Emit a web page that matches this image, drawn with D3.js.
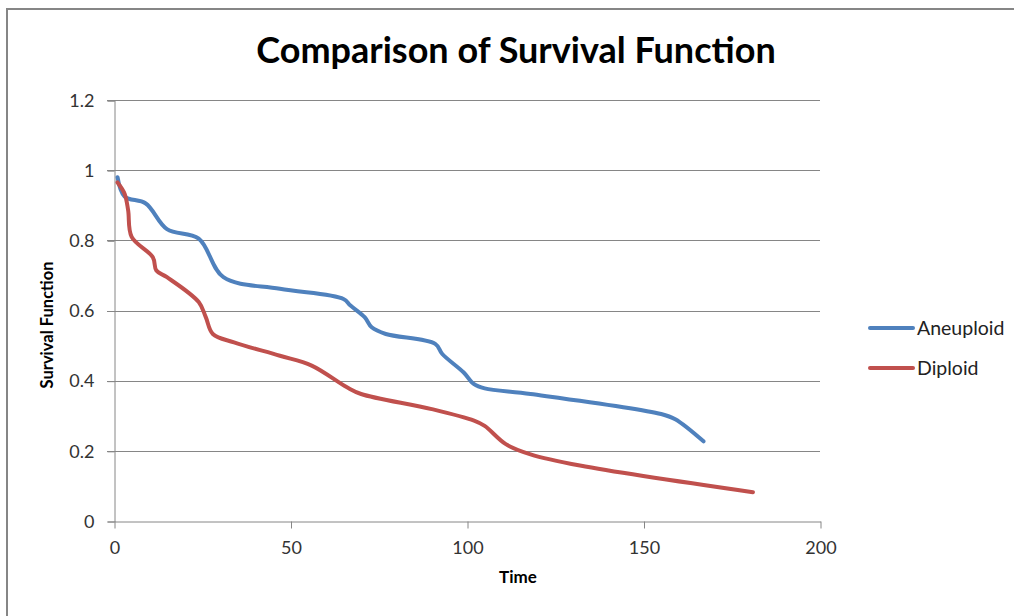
<!DOCTYPE html>
<html>
<head>
<meta charset="utf-8">
<script src="https://cdn.jsdelivr.net/npm/d3@7"></script>
<style>
  body { margin: 0; background: #fff; }
  svg { display: block; font-family: Lato, "Noto Sans", sans-serif; }
</style>
</head>
<body>
<svg id="chart"></svg>
<script>
// survival estimates: [time, survival]
const aneuploid = [
  [1, 0.98], [3, 0.925], [9, 0.905], [15, 0.832], [24, 0.805], [31, 0.695],
  [47, 0.662], [65, 0.633], [67, 0.614], [71, 0.581], [73, 0.552], [77, 0.533],
  [91, 0.505], [93, 0.476], [99, 0.424], [102, 0.39], [105, 0.378], [118, 0.362],
  [155, 0.305], [159, 0.29], [167, 0.227]
];
const diploid = [
  [1, 0.965], [3, 0.933], [4, 0.886], [5, 0.81], [11, 0.752], [12, 0.714],
  [15, 0.695], [24, 0.624], [26, 0.581], [28, 0.533], [34, 0.509], [47, 0.471],
  [56, 0.443], [66, 0.381], [70, 0.362], [90, 0.319], [102, 0.286], [105, 0.271],
  [111, 0.219], [118, 0.19], [132, 0.158], [181, 0.082]
];
const seriesNames = ["Aneuploid", "Diploid"];
const seriesColors = ["#4f81bd", "#c0504d"];
const xTicks = [0, 50, 100, 150, 200];
const yTicks = [0, 0.2, 0.4, 0.6, 0.8, 1, 1.2];

const width = 1014, height = 616;
const plotLeft = 114, plotRight = 820, plotTop = 100, plotBottom = 521;

const svg = d3.select("#chart").attr("width", width).attr("height", height);

// outer chart border (only top/left visible in the picture)
svg.append("rect")
  .attr("x", 7).attr("y", 9)
  .attr("width", 1020).attr("height", 620)
  .attr("fill", "none").attr("stroke", "#868686").attr("stroke-width", 2);

const x = d3.scaleLinear().domain([0, 200]).range([plotLeft, plotRight]);
const y = d3.scaleLinear().domain([0, 1.2]).range([plotBottom, plotTop]);

// gridlines
svg.append("g")
  .selectAll("line")
  .data(yTicks.filter(d => d > 0))
  .join("line")
  .attr("x1", plotLeft - 7).attr("x2", plotRight)
  .attr("y1", d => Math.round(y(d)) + 0.5).attr("y2", d => Math.round(y(d)) + 0.5)
  .attr("stroke", "#868686").attr("stroke-width", 1);

// y axis
const yAxis = svg.append("g")
  .attr("transform", `translate(${plotLeft + 0.5},0.5)`)
  .call(d3.axisLeft(y).tickValues(yTicks).tickSize(7).tickPadding(13).tickFormat(d3.format("")));
yAxis.select(".domain").attr("stroke", "#868686");
yAxis.selectAll(".tick line").attr("stroke", "#868686");
yAxis.selectAll(".tick text").attr("font-size", 18).attr("fill", "#333").attr("font-family", "Lato, sans-serif");

// x axis
const xAxis = svg.append("g")
  .attr("transform", `translate(0.5,${plotBottom + 0.5})`)
  .call(d3.axisBottom(x).tickValues(xTicks).tickSize(7).tickPadding(13).tickSizeOuter(0));
xAxis.select(".domain").attr("stroke", "#868686");
xAxis.selectAll(".tick line").attr("stroke", "#868686");
xAxis.selectAll(".tick text").attr("font-size", 18).attr("fill", "#333").attr("font-family", "Lato, sans-serif");

// lines
const line = d3.line()
  .x(d => x(d[0]))
  .y(d => y(d[1]))
  .curve(d3.curveCatmullRom.alpha(0.5));

[aneuploid, diploid].forEach((data, i) => {
  svg.append("path")
    .datum(data)
    .attr("fill", "none")
    .attr("stroke", seriesColors[i])
    .attr("stroke-width", 4)
    .attr("stroke-linecap", "round")
    .attr("stroke-linejoin", "round")
    .attr("d", line);
});

// title
svg.append("text")
  .attr("x", 516).attr("y", 63)
  .attr("text-anchor", "middle")
  .attr("font-size", 36).attr("font-weight", "bold")
  .text("Comparison of Survival Function");

// axis titles
svg.append("text")
  .attr("transform", "translate(53,325) rotate(-90)")
  .attr("text-anchor", "middle")
  .attr("font-size", 16.5).attr("font-weight", "bold")
  .text("Survival Function");

svg.append("text")
  .attr("x", 518).attr("y", 583)
  .attr("text-anchor", "middle")
  .attr("font-size", 17).attr("font-weight", "bold")
  .text("Time");

// legend
const legend = svg.append("g")
  .selectAll("g")
  .data(seriesNames)
  .join("g")
  .attr("transform", (d, i) => `translate(870,${328 + i * 40})`);
legend.append("line")
  .attr("x1", 0).attr("x2", 43)
  .attr("stroke", (d, i) => seriesColors[i])
  .attr("stroke-width", 4).attr("stroke-linecap", "round");
legend.append("text")
  .attr("x", 47).attr("dy", "0.35em")
  .attr("font-size", 19.5).attr("fill", "#222")
  .text(d => d);
</script>
</body>
</html>
